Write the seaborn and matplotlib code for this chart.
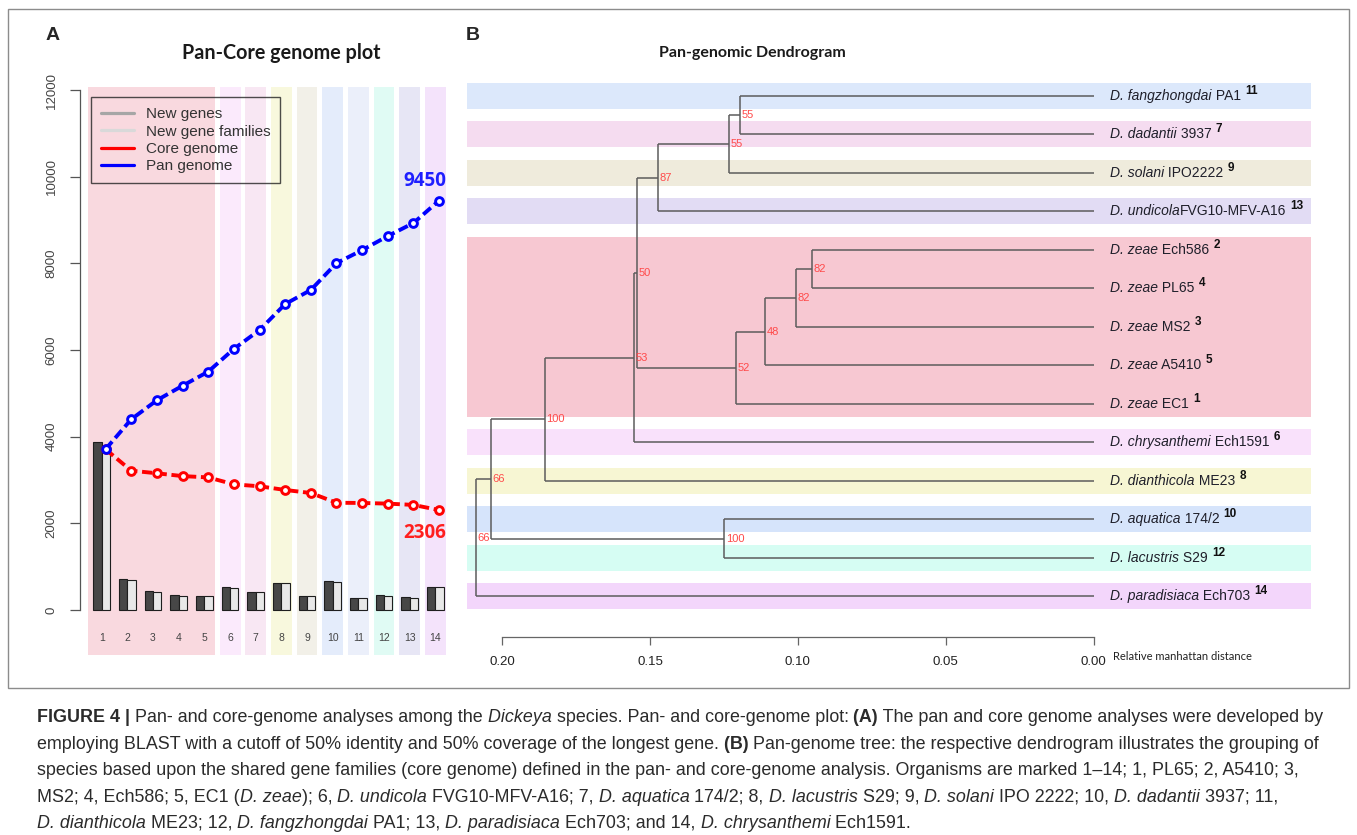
import numpy as np
import pandas as pd
import matplotlib
matplotlib.use('Agg')
import matplotlib.pyplot as plt
import seaborn as sns
from matplotlib.lines import Line2D
from matplotlib.patches import Rectangle

# %% data - panel A (pan / core genome)
genomes = np.arange(1, 15)
new_genes = [3885, 715, 446, 354, 325, 538, 423, 630, 325, 677, 285, 338, 292, 540]
new_families = [3750, 695, 425, 325, 318, 510, 410, 615, 322, 640, 278, 332, 285, 540]
core_genome = [3710, 3215, 3155, 3090, 3060, 2900, 2855, 2770, 2700, 2475, 2470, 2455, 2425, 2306]
pan_genome = [3710, 4400, 4840, 5175, 5500, 6025, 6460, 7060, 7385, 8005, 8305, 8630, 8930, 9450]
legend_labels = ['New genes', 'New gene families', 'Core genome', 'Pan genome']
y_ticks = [0, 2000, 4000, 6000, 8000, 10000, 12000]

# %% data - panel B (dendrogram)
leaf_species = ['D. fangzhongdai', 'D. dadantii', 'D. solani', 'D. undicola', 'D. zeae', 'D. zeae',
                'D. zeae', 'D. zeae', 'D. zeae', 'D. chrysanthemi', 'D. dianthicola', 'D. aquatica',
                'D. lacustris', 'D. paradisiaca']
leaf_strain = [' PA1', ' 3937', ' IPO2222', 'FVG10-MFV-A16', ' Ech586', ' PL65', ' MS2', ' A5410',
               ' EC1', ' Ech1591', ' ME23', ' 174/2', ' S29', ' Ech703']
leaf_number = ['11', '7', '9', '13', '2', '4', '3', '5', '1', '6', '8', '10', '12', '14']
# internal nodes: name, child 1, child 2, height (distance), support
tree_nodes = [
    ('N1', 'L0', 'L1', 0.1196, 55),
    ('N2', 'N1', 'L2', 0.1232, 55),
    ('N3', 'N2', 'L3', 0.1474, 87),
    ('N4', 'L4', 'L5', 0.0953, 82),
    ('N5', 'N4', 'L6', 0.1006, 82),
    ('N6', 'N5', 'L7', 0.1111, 48),
    ('N7', 'N6', 'L8', 0.1208, 52),
    ('N8', 'N3', 'N7', 0.1543, 50),
    ('N9', 'N8', 'L9', 0.1556, 53),
    ('N10', 'N9', 'L10', 0.1856, 100),
    ('N11', 'L11', 'L12', 0.1250, 100),
    ('N12', 'N10', 'N11', 0.2038, 66),
    ('N13', 'N12', 'L13', 0.2090, 66),
]
dist_ticks = [0.0, 0.05, 0.10, 0.15, 0.20]

# band colours
a_bands = [(1, 5, '#f9d9df'), (6, 6, '#fbeafc'), (7, 7, '#f8e7f3'), (8, 8, '#f8f8dd'),
           (9, 9, '#f2f0e8'), (10, 10, '#e4ecfb'), (11, 11, '#ebeffa'), (12, 12, '#e0fbf4'),
           (13, 13, '#e7e6f5'), (14, 14, '#f4e3fb')]
b_bands = [(0, 0, '#dce8fb'), (1, 1, '#f5dcf0'), (2, 2, '#efebdc'), (3, 3, '#e2dcf4'),
           (4, 8, '#f7c8d2'), (9, 9, '#f9e1fb'), (10, 10, '#f7f6d3'), (11, 11, '#d6e4fb'),
           (12, 12, '#d6fdf3'), (13, 13, '#f3d6fb')]

# %% figure
sns.set_style('white')
plt.rcParams['font.family'] = ['Liberation Sans', 'DejaVu Sans']

W, H = 1357, 835
fig = plt.figure(figsize=(W / 100, H / 100), dpi=100)


def fx(px):
    return px / W


def fy(py):
    return 1 - py / H


fig.patches.append(Rectangle((fx(8), fy(688)), fx(1349) - fx(8), fy(9) - fy(688),
                             transform=fig.transFigure, fill=False, edgecolor='#8c8c8c', lw=1.0))

# %% panel A
ax = fig.add_axes([fx(80), fy(660), fx(450) - fx(80), fy(80) - fy(660)])
for first, last, c in a_bands:
    left = first - (0.53 if last > first else 0.4)
    ax.axvspan(left, last + 0.41, ymin=0.0086, ymax=0.988, color=c, lw=0, zorder=0)

bars = pd.DataFrame({'genome': np.tile(genomes, 2),
                     'count': new_genes + new_families,
                     'kind': ['New genes'] * 14 + ['New gene families'] * 14})
sns.barplot(data=bars, x='genome', y='count', hue='kind', native_scale=True, width=0.65,
            palette=['#474747', '#e8e8e8'], edgecolor='#1e1e1e', linewidth=0.8,
            errorbar=None, legend=False, ax=ax, zorder=2)

sns.lineplot(x=genomes + 0.15, y=core_genome, ax=ax, color='#ff0000', lw=2.8,
             linestyle=(0, (2.6, 1.2)), marker='o', ms=5.6, mfc='white', mec='#ff0000',
             mew=2.1, zorder=4)
sns.lineplot(x=genomes + 0.15, y=pan_genome, ax=ax, color='#0000ff', lw=2.8,
             linestyle=(0, (2.6, 1.2)), marker='o', ms=5.6, mfc='white', mec='#0000ff',
             mew=2.1, zorder=5)

ax.set_xlim(0.154, 14.574)
ax.set_ylim(-1154, 12231)
ax.set_xlabel('')
ax.set_ylabel('')
ax.set_xticks([])
ax.set_yticks(y_ticks)
ax.set_yticklabels([str(t) for t in y_ticks])
ax.tick_params(axis='y', length=7, width=0.9, color='#555555', labelsize=9.5,
               labelcolor='#444444', pad=9, labelrotation=90, left=True)
for t in ax.get_yticklabels():
    t.set_va('center')
for s in ['top', 'right', 'bottom']:
    ax.spines[s].set_visible(False)
ax.spines['left'].set_bounds(0, 12000)
ax.spines['left'].set_color('#555555')
ax.spines['left'].set_linewidth(0.9)

for g in genomes:
    ax.text(g, -646, str(g), ha='center', va='center', fontsize=7.5, color='#444444')

ax.annotate(str(pan_genome[-1]), xy=(genomes[-1] + 0.15, pan_genome[-1]), xytext=(-10.5, 14),
            textcoords='offset points', ha='center', va='center', color='#1f1fff',
            fontweight='bold', fontsize=13.5, family='Open Sans', zorder=6)
ax.annotate(str(core_genome[-1]), xy=(genomes[-1] + 0.15, core_genome[-1]), xytext=(-10.5, -16.7),
            textcoords='offset points', ha='center', va='center', color='#ff1f1f',
            fontweight='bold', fontsize=13.5, family='Open Sans', zorder=6)

handles = [Line2D([], [], color=c, lw=2.3) for c in ['#a6a6a6', '#d9d9d9', '#ff0000', '#0000ff']]
leg = ax.legend(handles, legend_labels, loc='upper left', bbox_to_anchor=(fx(90.7), fy(97.3)),
                bbox_transform=fig.transFigure, borderaxespad=0, frameon=True, fancybox=False,
                edgecolor='#222222', facecolor='none', fontsize=11, labelspacing=0.22,
                handlelength=2.2, handletextpad=0.75, borderpad=0.65)
leg.get_frame().set_linewidth(1.0)
for t in leg.get_texts():
    t.set_color('#333333')

# %% panel B
axb = fig.add_axes([fx(460), fy(680), fx(1320) - fx(460), fy(75) - fy(680)])
axb.set_xlim(0.2143, -0.0766)
axb.set_ylim(15.169, -0.545)

for first, last, c in b_bands:
    axb.axhspan(first - 0.35, last + 0.33, xmin=7 / 860, xmax=851 / 860, color=c, lw=0, zorder=0)

pos = {f'L{i}': (0.0, float(i)) for i in range(len(leaf_species))}
line_kw = dict(color='#5c5c5c', lw=1.1, solid_capstyle='butt', zorder=2)
for name, c1, c2, h, sup in tree_nodes:
    (x1, y1), (x2, y2) = pos[c1], pos[c2]
    axb.plot([h, h], [y1, y2], **line_kw)
    axb.plot([h, x1], [y1, y1], **line_kw)
    axb.plot([h, x2], [y2, y2], **line_kw)
    pos[name] = (h, (y1 + y2) / 2)
    axb.annotate(str(sup), xy=pos[name], xytext=(1.2, 0), textcoords='offset points',
                 ha='left', va='center', fontsize=8, color='#ff4a4a', zorder=3)

for i, (sp, st, num) in enumerate(zip(leaf_species, leaf_strain, leaf_number)):
    t1 = axb.annotate(sp, xy=(0.0, i), xytext=(12, 0), textcoords='offset points', ha='left',
                      va='center', fontsize=10, fontstyle='italic', color='#1f1f2a')
    t2 = axb.annotate(st, xy=(1, 0), xycoords=t1, ha='left', va='bottom', fontsize=10,
                      color='#1f1f2a')
    axb.annotate(num, xy=(1, 0.5), xycoords=t2, xytext=(3, -0.5), textcoords='offset points',
                 ha='left', va='bottom', fontsize=8.5, fontweight='bold', color='#111111')

for s in ['top', 'right', 'left']:
    axb.spines[s].set_visible(False)
axb.spines['bottom'].set_position(('data', 14.04))
axb.spines['bottom'].set_bounds(0, 0.2)
axb.spines['bottom'].set_color('#666666')
axb.spines['bottom'].set_linewidth(0.9)
axb.set_yticks([])
axb.set_xticks(dist_ticks)
axb.set_xticklabels([f'{t:.2f}' for t in dist_ticks])
axb.tick_params(axis='x', length=6, width=0.9, color='#666666', labelsize=9.5, pad=8,
                labelcolor='#222222', bottom=True)
axb.annotate('Relative manhattan distance', xy=(0.0, 14.04), xytext=(14, -14.6),
             textcoords='offset points', ha='left', va='center', fontsize=8, family='Lato',
             color='#222222')

# %% titles and panel letters
fig.text(fx(281), fy(53), 'Pan-Core genome plot', ha='center', va='center', fontsize=14.2,
         fontweight='bold', family='Lato', color='#1a1a1a')
fig.text(fx(752), fy(53), 'Pan-genomic Dendrogram', ha='center', va='center', fontsize=11.5,
         fontweight='bold', family='Lato', color='#1a1a1a')
fig.text(fx(46), fy(35.5), 'A', ha='left', va='center', fontsize=14, fontweight='bold')
fig.text(fx(466), fy(35.5), 'B', ha='left', va='center', fontsize=14, fontweight='bold')

# %% caption
cap = fig.add_axes([0, 0, 1, 1], zorder=-1)
cap.axis('off')
n, b, i_ = ('normal', 'normal'), ('bold', 'normal'), ('normal', 'italic')
cap_lines = [
    [('FIGURE 4 |', b), (' Pan- and core-genome analyses among the', n), (' Dickeya', i_),
     (' species. Pan- and core-genome plot:', n), (' (A)', b),
     (' The pan and core genome analyses were developed by', n)],
    [('employing BLAST with a cutoff of 50% identity and 50% coverage of the longest gene.', n),
     (' (B)', b), (' Pan-genome tree: the respective dendrogram illustrates the grouping of', n)],
    [('species based upon the shared gene families (core genome) defined in the pan- and '
      'core-genome analysis. Organisms are marked 1–14; 1, PL65; 2, A5410; 3,', n)],
    [('MS2; 4, Ech586; 5, EC1 (', n), ('D. zeae', i_), ('); 6,', n), (' D. undicola', i_),
     (' FVG10-MFV-A16; 7,', n), (' D. aquatica', i_), (' 174/2; 8,', n), (' D. lacustris', i_),
     (' S29; 9,', n), (' D. solani', i_), (' IPO 2222; 10,', n), (' D. dadantii', i_),
     (' 3937; 11,', n)],
    [('D. dianthicola', i_), (' ME23; 12,', n), (' D. fangzhongdai', i_), (' PA1; 13,', n),
     (' D. paradisiaca', i_), (' Ech703; and 14,', n), (' D. chrysanthemi', i_),
     (' Ech1591.', n)],
]
cap_baselines = [722, 749, 775, 802, 828]
for parts, yb in zip(cap_lines, cap_baselines):
    t = None
    for s, (w, st) in parts:
        kw = dict(fontsize=12.9, fontweight=w, fontstyle=st, color='#2b2b2b')
        if t is None:
            t = cap.text(fx(37), fy(yb), s, ha='left', va='baseline', transform=cap.transAxes, **kw)
        else:
            t = cap.annotate(s, xy=(1, 0), xycoords=t, ha='left', va='bottom', **kw)

fig.savefig('out.png', dpi=100)
